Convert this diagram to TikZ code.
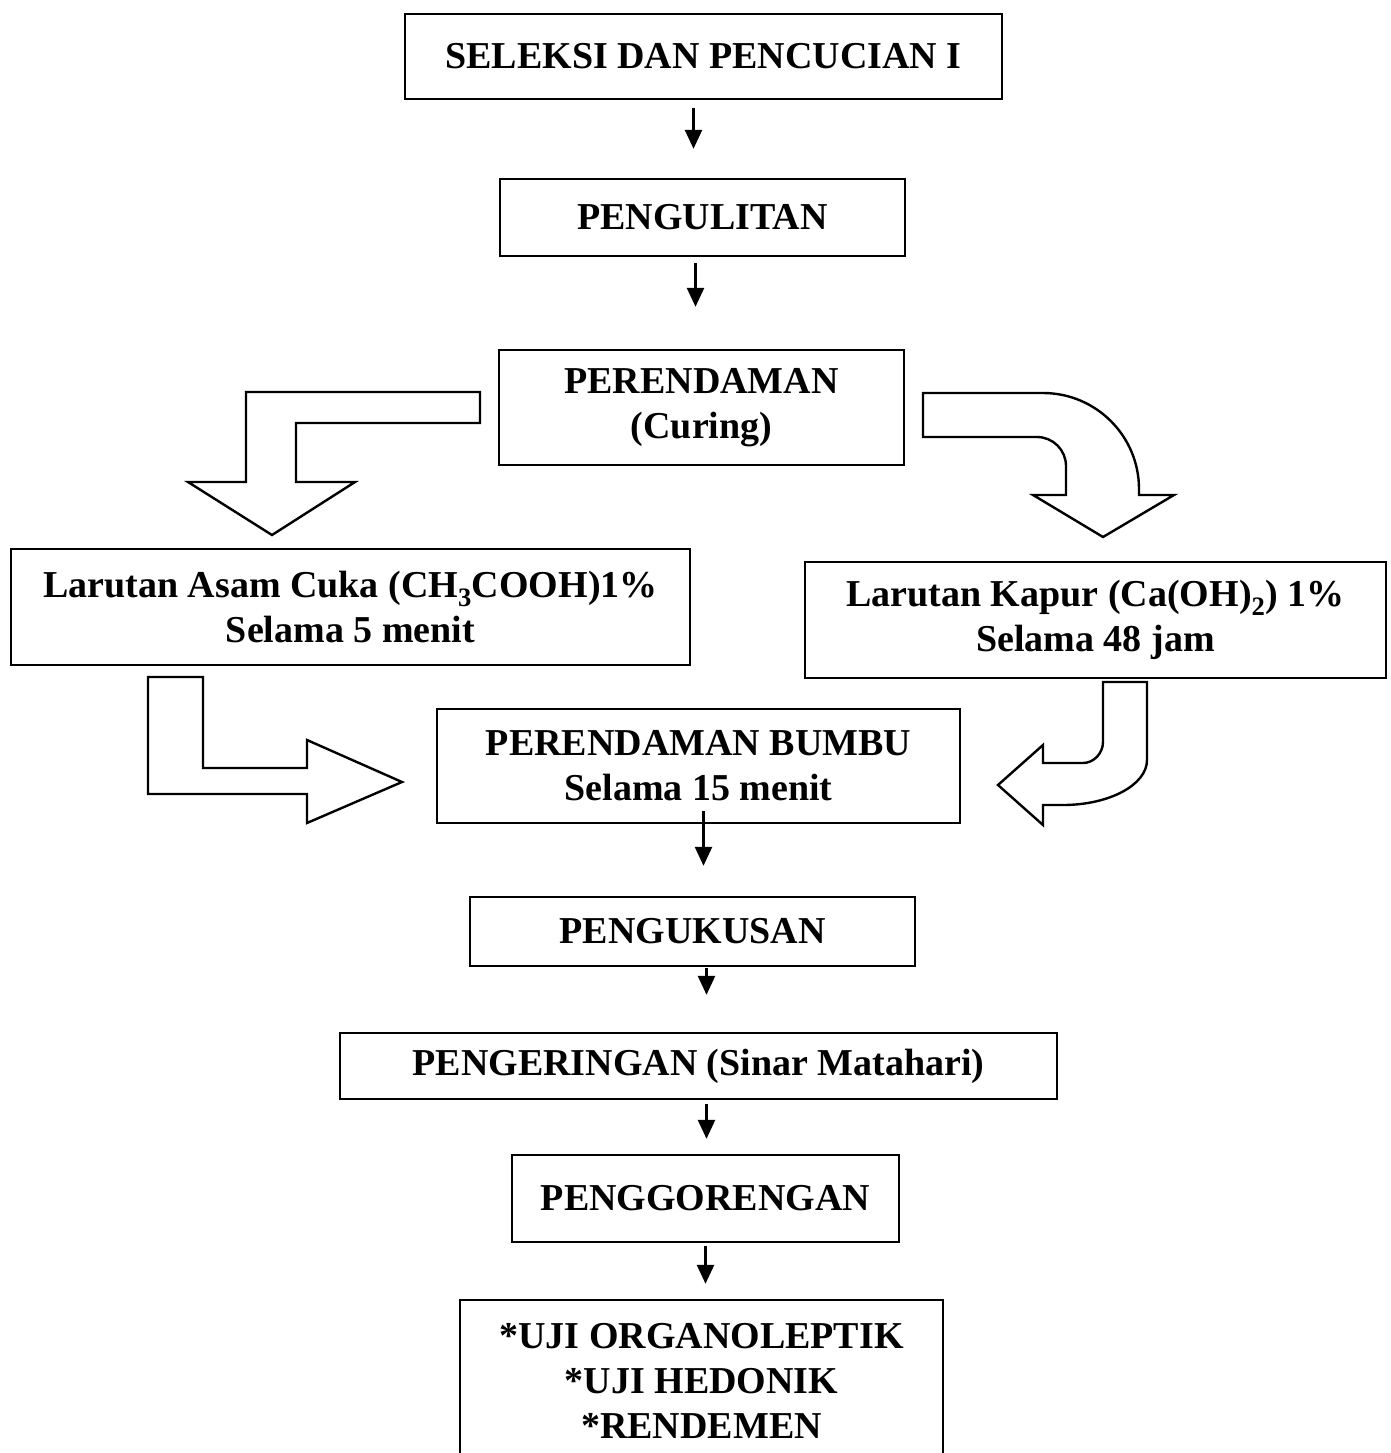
\documentclass[tikz,border=0pt]{standalone}
\usepackage{fontspec}
\setmainfont{Liberation Serif}
\usetikzlibrary{arrows.meta}

\begin{document}
\begin{tikzpicture}[
  x=1pt,y=-1pt,
  every node/.style={font=\fontsize{38}{45}\selectfont\bfseries},
  stepbox/.style={rectangle,draw,line width=2.4pt,inner sep=0pt,align=center},
  arr/.style={-{Triangle[length=19pt,width=17pt]},line width=2.6pt},
  bigarrow/.style={draw,line width=2.4pt,fill=white,line join=miter}
]
\useasboundingbox (0,0) rectangle (1390,1453);
\node[stepbox,minimum width=597,minimum height=85] (sel) at (703.5,56.5) {SELEKSI DAN PENCUCIAN I};
\node[stepbox,minimum width=405,minimum height=77] (kulit) at (702.5,217.5) {PENGULITAN};
\node[stepbox,minimum width=405,minimum height=115] (rendam) at (701.5,407.5) {PERENDAMAN\\(Curing)};
\node[stepbox,minimum width=679,minimum height=116] (asam) at (350.5,607) {Larutan Asam Cuka (CH\textsubscript{3}COOH)1\%\\Selama 5 menit};
\node[stepbox,minimum width=581,minimum height=116] (kapur) at (1095.5,620) {Larutan Kapur (Ca(OH)\textsubscript{2}) 1\%\\Selama 48 jam};
\node[stepbox,minimum width=523,minimum height=114] (bumbu) at (698.5,766) {PERENDAMAN BUMBU\\Selama 15 menit};
\node[stepbox,minimum width=445,minimum height=69] (kukus) at (692.5,931.5) {PENGUKUSAN};
\node[stepbox,minimum width=717,minimum height=66] (kering) at (698.5,1066) {PENGERINGAN (Sinar Matahari)};
\node[stepbox,minimum width=387,minimum height=87] (goreng) at (705.5,1198.5) {PENGGORENGAN};
\node[stepbox,minimum width=483,minimum height=162] (uji) at (701.5,1381) {*UJI ORGANOLEPTIK\\*UJI HEDONIK\\*RENDEMEN};
% small arrows
\draw[arr,shorten <=8pt,shorten >=29pt] ([xshift=-10pt]sel.south) -- ([xshift=-10pt]sel.south |- kulit.north);
\draw[arr,shorten <=6pt,shorten >=42pt] ([xshift=-7pt]kulit.south) -- ([xshift=-7pt]kulit.south |- rendam.north);
\draw[arr,shorten <=-13pt,shorten >=30pt] ([xshift=5pt]bumbu.south) -- ([xshift=5pt]bumbu.south |- kukus.north);
\draw[arr,shorten <=1pt,shorten >=37pt] ([xshift=14pt]kukus.south) -- ([xshift=14pt]kukus.south |- kering.north);
\draw[arr,shorten <=4pt,shorten >=15pt] ([xshift=8pt]kering.south) -- ([xshift=8pt]kering.south |- goreng.north);
\draw[arr,shorten <=3pt,shorten >=15pt] ([xshift=0pt]goreng.south) -- ([xshift=0pt]goreng.south |- uji.north);
% block arrows
\draw[bigarrow] (480,392) -- (246,392) -- (246,482) -- (188,482) -- (272,535) -- (355,482)
  -- (296,482) -- (296,423) -- (480,423) -- cycle;
\draw[bigarrow] (923,393) -- (1043,393) .. controls (1096,393) and (1139,436) .. (1139,489)
  -- (1139,495) -- (1174,495) -- (1103,537) -- (1033,495) -- (1066,495) -- (1066,466)
  .. controls (1066,450) and (1053,437) .. (1037,437) -- (923,437) -- cycle;
\draw[bigarrow] (148,677) -- (203,677) -- (203,768) -- (307,768) -- (307,740) -- (402,782)
  -- (307,823) -- (307,794) -- (148,794) -- cycle;
\draw[bigarrow] (1103,682) -- (1147,682) -- (1147,760) .. controls (1147,785) and (1109,805) .. (1063,805)
  -- (1043,805) -- (1043,825) -- (998,785) -- (1043,745) -- (1043,763) -- (1083,763)
  .. controls (1094,763) and (1103,753) .. (1103,742) -- cycle;
\end{tikzpicture}
\end{document}
